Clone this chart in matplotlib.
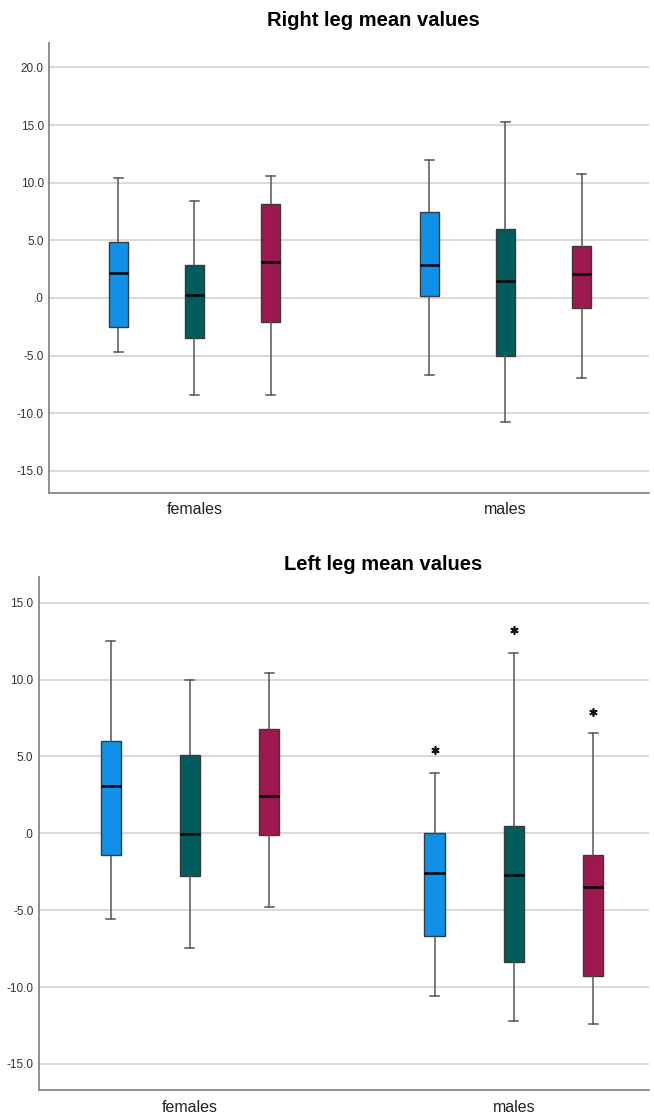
import matplotlib
matplotlib.use("Agg")
import matplotlib.pyplot as plt
from matplotlib.ticker import FuncFormatter

plt.rcParams['font.family'] = ['Liberation Sans', 'DejaVu Sans']

groups = ["females", "males"]
colors = ["#1190e8", "#015c5c", "#9e1850"]

# each box: whisker high, q3, median, q1, whisker low
right_blue = [[10.4, 4.9, 2.2, -2.5, -4.7], [12.0, 7.5, 2.85, 0.15, -6.7]]
right_teal = [[8.4, 2.85, 0.3, -3.45, -8.45], [15.3, 6.0, 1.45, -5.0, -10.75]]
right_red = [[10.55, 8.15, 3.1, -2.05, -8.45], [10.8, 4.5, 2.1, -0.9, -6.95]]

left_blue = [[12.5, 6.0, 3.05, -1.4, -5.6], [3.9, 0.0, -2.55, -6.7, -10.6]]
left_teal = [[10.0, 5.1, -0.05, -2.8, -7.45], [11.7, 0.5, -2.7, -8.35, -12.2]]
left_red = [[10.45, 6.8, 2.45, -0.1, -4.8], [6.5, -1.4, -3.5, -9.3, -12.4]]

# extreme values (stars)
left_blue_out = [[], [5.45]]
left_teal_out = [[], [13.25]]
left_red_out = [[], [7.9]]

right_ticks = [-15, -10, -5, 0, 5, 10, 15, 20]
left_ticks = [-15, -10, -5, 0, 5, 10, 15]


def fmt(v, pos):
    s = "%.1f" % v
    if s == "0.0":
        s = ".0"
    return s


def make_stats(vals, outs):
    st = []
    for i in range(len(vals)):
        hi, q3, med, q1, lo = vals[i]
        st.append(dict(whishi=hi, q3=q3, med=med, q1=q1, whislo=lo, fliers=outs[i]))
    return st


def draw_panel(ax, series, outliers, ticks, ylim, xlim, title_x, title):
    offsets = [-0.245, 0.0, 0.245]
    for k in range(3):
        pos = [g + offsets[k] for g in range(len(groups))]
        st = make_stats(series[k], outliers[k])
        ax.bxp(st, positions=pos, widths=0.062, capwidths=0.028, patch_artist=True,
               boxprops=dict(facecolor=colors[k], edgecolor="#3a3a3a", linewidth=1.0),
               medianprops=dict(color="black", linewidth=1.8),
               whiskerprops=dict(color="#555555", linewidth=1.1),
               capprops=dict(color="#555555", linewidth=1.1),
               flierprops=dict(marker=(6, 2, 0), markersize=6, markeredgecolor="#111111",
                               markeredgewidth=1.2, linestyle="none"),
               zorder=3)
    ax.set_ylim(ylim)
    ax.set_xlim(xlim)
    ax.set_yticks(ticks)
    ax.yaxis.set_major_formatter(FuncFormatter(fmt))
    ax.set_xticks(range(len(groups)))
    ax.set_xticklabels(groups, fontsize=11.5, color="#222222")
    ax.tick_params(axis="y", length=0, labelsize=8.5, labelcolor="#333333", pad=4)
    ax.tick_params(axis="x", length=0, pad=7)
    ax.grid(axis="y", color="#d9d9d9", linewidth=1.4, zorder=0)
    ax.set_axisbelow(True)
    for s in ["top", "right"]:
        ax.spines[s].set_visible(False)
    for s in ["left", "bottom"]:
        ax.spines[s].set_color("#888888")
        ax.spines[s].set_linewidth(1.3)
    fig.text(title_x, title[1], title[0], ha="center", va="center",
             fontsize=14.5, fontweight="bold")


fig = plt.figure(figsize=(6.54, 11.16), dpi=100)

ax1 = fig.add_axes([0.0754, 0.5585, 0.917, 0.4027])
draw_panel(ax1, [right_blue, right_teal, right_red], [[[], []], [[], []], [[], []]],
           right_ticks, (-16.9, 22.1), (-0.467, 1.462), 373 / 654,
           ("Right leg mean values", 1 - 20 / 1116))

ax2 = fig.add_axes([0.0596, 0.0233, 0.9327, 0.46])
draw_panel(ax2, [left_blue, left_teal, left_red], [left_blue_out, left_teal_out, left_red_out],
           left_ticks, (-16.7, 16.7), (-0.466, 1.417), 383 / 654,
           ("Left leg mean values", 1 - 565 / 1116))

fig.savefig("out.png", dpi=100, facecolor="white")
